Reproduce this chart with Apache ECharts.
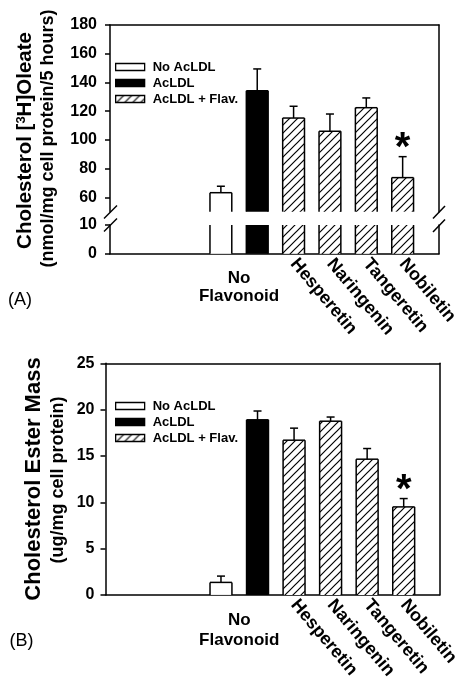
<!DOCTYPE html>
<html><head><meta charset="utf-8">
<script src="https://cdn.jsdelivr.net/npm/echarts@6/dist/echarts.min.js"></script>
<style>html,body{margin:0;padding:0;background:#fff}#c{width:462px;height:682px}</style>
</head><body><div id="c"></div>
<script>
// ---------- DATA ----------
const treatments = ['No AcLDL', 'AcLDL', 'Hesperetin', 'Naringenin', 'Tangeretin', 'Nobiletin'];
const groupOf = ['No AcLDL', 'AcLDL', 'AcLDL + Flav.', 'AcLDL + Flav.', 'AcLDL + Flav.', 'AcLDL + Flav.'];
const legendNames = ['No AcLDL', 'AcLDL', 'AcLDL + Flav.'];
const flavonoidLabels = ['Hesperetin', 'Naringenin', 'Tangeretin', 'Nobiletin'];
const controlLabel = 'No\nFlavonoid';
// Panel A: Cholesterol [3H]Oleate (nmol/mg cell protein/5 hours)
const oleateMean = [63.2, 134.2, 115.2, 106.0, 122.4, 73.7];
const oleateSE = [4.5, 15.2, 8.2, 12.0, 6.8, 14.6];
// Panel B: Cholesterol Ester Mass (ug/mg cell protein)
const esterMean = [1.35, 18.9, 16.7, 18.75, 14.65, 9.5];
const esterSE = [0.68, 0.95, 1.3, 0.45, 1.15, 0.9];
const significant = [false, false, false, false, false, true];
const oleateTicksUpper = [60, 80, 100, 120, 140, 160, 180];
const oleateTicksLower = [0, 10];
const esterTicks = [0, 5, 10, 15, 20, 25];

// ---------- STYLE ----------
const F = 'Liberation Sans, Arial, sans-serif';
const BAR_FRAC = 0.6;
const LW = 1.5;

function makeHatch() {
  const c = document.createElement('canvas');
  c.width = 8; c.height = 8;
  const g = c.getContext('2d');
  g.fillStyle = '#fff'; g.fillRect(0, 0, 8, 8);
  g.strokeStyle = '#000'; g.lineWidth = 1.2;
  g.beginPath();
  g.moveTo(-1, 9); g.lineTo(9, -1);
  g.moveTo(-1, 1); g.lineTo(1, -1);
  g.moveTo(7, 9); g.lineTo(9, 7);
  g.stroke();
  return c;
}
const hatch = { image: makeHatch(), repeat: 'repeat' };
const fills = { 'No AcLDL': '#ffffff', 'AcLDL': '#000000', 'AcLDL + Flav.': hatch };

const xPos = treatments.map((t, i) => i + 1);

function barRenderer(fill) {
  return function (params, api) {
    const cs = params.coordSys;
    const xv = api.value(0), v = api.value(1);
    const w = api.size([1, 0])[0] * BAR_FRAC;
    const pt = api.coord([xv, v]);
    const pb = api.coord([xv, 0]);
    const y0 = cs.y, y1 = cs.y + cs.height;
    const yTop = Math.max(pt[1], y0), yBot = Math.min(pb[1], y1);
    if (yBot <= yTop) return;
    const l = pt[0] - w / 2, r = pt[0] + w / 2;
    const ls = { stroke: '#000', lineWidth: LW };
    const ch = [
      { type: 'rect', shape: { x: l, y: yTop, width: w, height: yBot - yTop }, style: { fill: fill } },
      { type: 'line', shape: { x1: l, y1: yBot, x2: l, y2: yTop }, style: ls },
      { type: 'line', shape: { x1: r, y1: yBot, x2: r, y2: yTop }, style: ls }
    ];
    if (pt[1] >= y0 - 0.5) ch.push({ type: 'line', shape: { x1: l, y1: yTop, x2: r, y2: yTop }, style: ls });
    return { type: 'group', children: ch };
  };
}

function errRenderer(params, api) {
  const xv = api.value(0), m = api.value(1), se = api.value(2), sig = api.value(3);
  const p0 = api.coord([xv, m]), p1 = api.coord([xv, m + se]);
  const ls = { stroke: '#000', lineWidth: LW };
  const ch = [
    { type: 'line', shape: { x1: p0[0], y1: p0[1], x2: p1[0], y2: p1[1] }, style: ls },
    { type: 'line', shape: { x1: p1[0] - 4, y1: p1[1], x2: p1[0] + 4, y2: p1[1] }, style: ls }
  ];
  if (sig) {
    ch.push({ type: 'text', x: p1[0], y: p1[1] - 8, style: { text: '*', fill: '#000', fontSize: 40, fontWeight: 'bold', fontFamily: F, align: 'center', verticalAlign: 'middle' } });
  }
  return { type: 'group', children: ch };
}

function barSeries(means, xAxisIndex, yAxisIndex) {
  return legendNames.map(name => ({
    type: 'custom', name: name, xAxisIndex, yAxisIndex,
    itemStyle: { color: name === 'AcLDL' ? '#000' : '#fff' },
    encode: { x: 0, y: 1 },
    renderItem: barRenderer(fills[name]),
    data: means.map((m, i) => groupOf[i] === name ? [xPos[i], m] : null).filter(d => d),
    silent: true, z: 2
  }));
}
function errSeries(means, ses, xAxisIndex, yAxisIndex) {
  return {
    type: 'custom', xAxisIndex, yAxisIndex, encode: { x: 0, y: 1 },
    renderItem: errRenderer, silent: true, z: 3,
    data: means.map((m, i) => [xPos[i], m, ses[i], significant[i] ? 1 : 0])
  };
}

const axLine = { show: true, onZero: false, lineStyle: { color: '#000', width: LW } };
const noLine = { show: false, onZero: false };
const tickStyle = { show: true, inside: false, length: 5, lineStyle: { color: '#000', width: LW } };
const tickLabel = { color: '#000', fontFamily: F, fontWeight: 'bold', fontSize: 16 };
const flavLabel = (margin) => ({
  show: true, customValues: flavonoidLabels.map((n, i) => xPos[i + 2]), rotate: -50, margin,
  formatter: v => treatments[Math.round(v) - 1], color: '#000', fontFamily: F, fontWeight: 'bold', fontSize: 18
});
const ctrlLabel = (margin, lh) => ({
  show: true, customValues: [(xPos[0] + xPos[1]) / 2], rotate: 0, margin, lineHeight: lh,
  formatter: () => controlLabel, color: '#000', fontFamily: F, fontWeight: 'bold', fontSize: 17
});
function xAx(grid, min, max, opts) {
  return Object.assign({
    type: 'value', gridIndex: grid, min, max, splitLine: { show: false },
    axisTick: { show: false }, axisLabel: { show: false }, axisLine: noLine
  }, opts);
}
function yAx(grid, min, max, opts) {
  return Object.assign({
    type: 'value', gridIndex: grid, min, max, splitLine: { show: false },
    axisTick: { show: false }, axisLabel: { show: false }, axisLine: noLine
  }, opts);
}

const AX = [-2.05, 7.0];
const BX = [-2.16, 6.98];
const legendBase = {
  orient: 'vertical', left: 115, padding: 0, itemWidth: 29, itemHeight: 7, itemGap: 3, selectedMode: false,
  textStyle: { color: '#000', fontFamily: F, fontWeight: 'bold', fontSize: 13, lineHeight: 13, padding: [0, 0, 0, 3] },
  data: legendNames.map(n => ({ name: n, icon: 'rect', itemStyle: { color: fills[n], borderColor: '#000', borderWidth: 1.3 } }))
};

const option = {
  backgroundColor: '#fff',
  animation: false,
  grid: [
    { left: 110, right: 23, top: 25, height: 186.65 },      // A upper
    { left: 110, right: 23, top: 225, height: 28.8 },       // A lower
    { left: 105.5, right: 15.5, top: 363.3, height: 234.4 } // B
  ],
  xAxis: [
    xAx(0, AX[0], AX[1], { position: 'top', axisLine: axLine }),
    xAx(1, AX[0], AX[1], { position: 'bottom', axisLine: axLine, axisLabel: flavLabel(7) }),
    xAx(1, AX[0], AX[1], { position: 'bottom', axisLabel: ctrlLabel(16, 18) }),
    xAx(2, BX[0], BX[1], { position: 'bottom', axisLine: axLine, axisLabel: flavLabel(7) }),
    xAx(2, BX[0], BX[1], { position: 'bottom', axisLabel: ctrlLabel(15, 20) }),
    xAx(2, BX[0], BX[1], { position: 'top', axisLine: axLine })
  ],
  yAxis: [
    yAx(0, 50, 180, { position: 'left', axisLine: axLine,
      axisTick: Object.assign({ customValues: oleateTicksUpper }, tickStyle),
      axisLabel: Object.assign({ show: true, customValues: oleateTicksUpper, margin: 13 }, tickLabel) }),
    yAx(0, 50, 180, { position: 'right', axisLine: axLine }),
    yAx(1, 0, 10, { position: 'left', axisLine: axLine,
      axisTick: Object.assign({ customValues: oleateTicksLower }, tickStyle),
      axisLabel: Object.assign({ show: true, customValues: oleateTicksLower, margin: 13 }, tickLabel) }),
    yAx(1, 0, 10, { position: 'right', axisLine: axLine }),
    yAx(2, 0, 25, { position: 'left', interval: 5, axisLine: axLine,
      axisTick: Object.assign({ customValues: esterTicks }, tickStyle),
      axisLabel: Object.assign({ show: true, customValues: esterTicks, margin: 11 }, tickLabel) }),
    yAx(2, 0, 25, { position: 'right', axisLine: axLine })
  ],
  legend: [
    Object.assign({ top: 60.5 }, legendBase),
    Object.assign({ top: 399.5 }, legendBase)
  ],
  graphic: [
    { type: 'text', x: 25.5, y: 140.5, rotation: Math.PI / 2, style: {
      text: '{a|Cholesterol [}{s|3}{a|H]Oleate}', align: 'center', verticalAlign: 'middle',
      rich: { a: { fontSize: 20.5, fontWeight: 'bold', fontFamily: F, fill: '#000' },
              s: { fontSize: 13, fontWeight: 'bold', fontFamily: F, fill: '#000', verticalAlign: 'top' } } } },
    { type: 'text', x: 48, y: 138.5, rotation: Math.PI / 2, style: {
      text: '(nmol/mg cell protein/5 hours)', align: 'center', verticalAlign: 'middle',
      fontSize: 18, fontWeight: 'bold', fontFamily: F, fill: '#000' } },
    { type: 'text', x: 34, y: 479, rotation: Math.PI / 2, style: {
      text: 'Cholesterol Ester Mass', align: 'center', verticalAlign: 'middle',
      fontSize: 22, fontWeight: 'bold', fontFamily: F, fill: '#000' } },
    { type: 'text', x: 58, y: 480, rotation: Math.PI / 2, style: {
      text: '(ug/mg cell protein)', align: 'center', verticalAlign: 'middle',
      fontSize: 18, fontWeight: 'bold', fontFamily: F, fill: '#000' } },
    { type: 'text', x: 20, y: 300, style: { text: '(A)', align: 'center', verticalAlign: 'middle', fontSize: 18, fontFamily: F, fill: '#000' } },
    { type: 'text', x: 21.5, y: 641, style: { text: '(B)', align: 'center', verticalAlign: 'middle', fontSize: 18, fontFamily: F, fill: '#000' } },
    // axis break marks
    { type: 'line', shape: { x1: 104, y1: 218.5, x2: 117, y2: 205.5 }, style: { stroke: '#000', lineWidth: LW } },
    { type: 'line', shape: { x1: 104, y1: 231.5, x2: 117, y2: 218.5 }, style: { stroke: '#000', lineWidth: LW } },
    { type: 'line', shape: { x1: 433, y1: 218.5, x2: 445, y2: 206 }, style: { stroke: '#000', lineWidth: LW } },
    { type: 'line', shape: { x1: 433, y1: 232, x2: 445, y2: 219.5 }, style: { stroke: '#000', lineWidth: LW } }
  ],
  series: [].concat(
    barSeries(oleateMean, 0, 0),
    barSeries(oleateMean, 1, 2),
    [errSeries(oleateMean, oleateSE, 0, 0)],
    barSeries(esterMean, 3, 4),
    [errSeries(esterMean, esterSE, 3, 4)]
  )
};

const chart = echarts.init(document.getElementById('c'), null, { renderer: 'canvas' });
chart.setOption(option);
</script>
</body></html>
